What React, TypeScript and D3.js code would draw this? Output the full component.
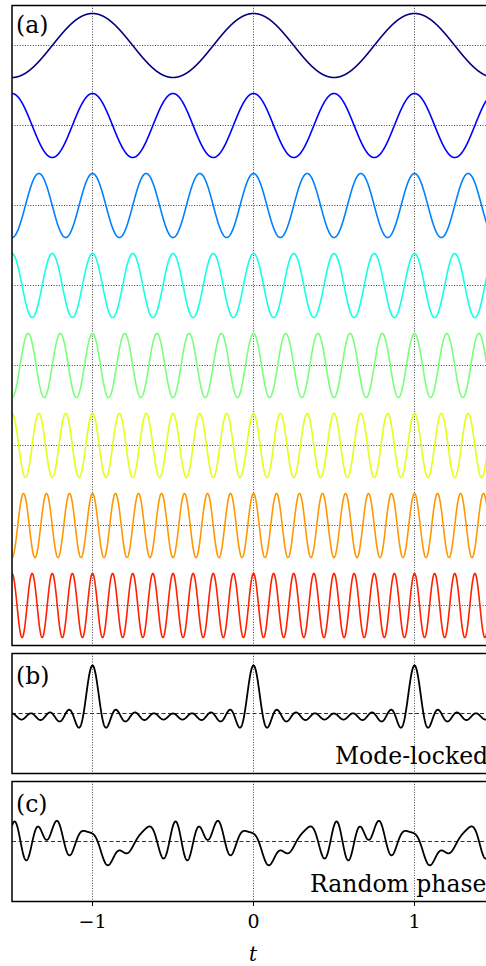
import React from 'react';
import * as d3 from 'd3';

const W = 486, H = 966;
const tDomain: [number, number] = [-1.5, 1.5];
const modes = [1, 2, 3, 4, 5, 6, 7, 8];
const modeColors = ['#000080', '#0000ff', '#0080ff', '#15ffe2', '#7bff7b', '#e2ff15', '#ff9700', '#ff2100'];
const lockedPhases = [0, 0, 0, 0, 0, 0, 0, 0];
const randomPhases = [2.127, 1.886, 0.089, -0.047, 1.737, 0.082, 2.833, -1.281];
const xTicks = [-1, 0, 1];
const panelLabels = ['(a)', '(b)', '(c)'];
const sumLabels = ['Mode-locked', 'Random phase'];

export default function App() {
  const x = d3.scaleLinear().domain(tDomain).range([12, 495]);
  const spacing = 2.5;
  const yA = d3.scaleLinear().domain([0, spacing * modes.length]).range([645.5, 5.5]);
  const yB = d3.scaleLinear().domain([-10, 10]).range([773.5, 653.5]);
  const yC = d3.scaleLinear().domain([-10, 10]).range([901.5, 781.5]);
  const ts = d3.range(0, 3001).map((i) => tDomain[0] + (i * (tDomain[1] - tDomain[0])) / 3000);
  const wave = (n: number, ph: number) => (t: number) => Math.cos(2 * Math.PI * n * t + ph);
  const center = (i: number) => spacing * (modes.length - i) - spacing / 2;
  const lineA = (i: number) =>
    d3.line<number>().x((t) => x(t)).y((t) => yA(center(i) + wave(modes[i], 0)(t)))(ts) as string;
  const sumLine = (phs: number[], y: d3.ScaleLinear<number, number>) =>
    d3.line<number>().x((t) => x(t)).y((t) => y(d3.sum(modes, (n, j) => wave(n, phs[j])(t))))(ts) as string;

  const panels = [
    { id: 'a', y0: 5.5, y1: 645.5, ly: 33 },
    { id: 'b', y0: 653.5, y1: 773.5, ly: 684 },
    { id: 'c', y0: 781.5, y1: 901.5, ly: 812 },
  ];
  const serif = '"DejaVu Serif", serif';
  const dot = { stroke: '#444', strokeWidth: 1, strokeDasharray: '1,1.6' };
  return (
    <div style={{ position: 'absolute', left: 0, top: 0 }}>
      <svg width={W} height={H} style={{ display: 'block', background: '#fff' }}>
        <defs>
          {panels.map((p) => (
            <clipPath id={'clip-' + p.id} key={p.id}>
              <rect x={12} y={p.y0} width={483} height={p.y1 - p.y0} />
            </clipPath>
          ))}
        </defs>
        {panels.map((p) => (
          <g key={p.id}>
            {xTicks.map((t) => (
              <line key={t} x1={x(t)} x2={x(t)} y1={p.y0} y2={p.y1} {...dot} />
            ))}
          </g>
        ))}
        {modes.map((n, i) => (
          <line key={'h' + n} x1={12} x2={495} y1={yA(center(i))} y2={yA(center(i))} {...dot} />
        ))}
        <line x1={12} x2={495} y1={yB(0)} y2={yB(0)} stroke="#333" strokeWidth={1} strokeDasharray="4,2.5" />
        <line x1={12} x2={495} y1={yC(0)} y2={yC(0)} stroke="#333" strokeWidth={1} strokeDasharray="4,2.5" />
        <g clipPath="url(#clip-a)">
          {modes.map((n, i) => (
            <path key={n} d={lineA(i)} fill="none" stroke={modeColors[i]} strokeWidth={1.6} />
          ))}
        </g>
        <g clipPath="url(#clip-b)">
          <path d={sumLine(lockedPhases, yB)} fill="none" stroke="#000" strokeWidth={1.8} />
        </g>
        <g clipPath="url(#clip-c)">
          <path d={sumLine(randomPhases, yC)} fill="none" stroke="#000" strokeWidth={1.8} />
        </g>
        {panels.map((p) => (
          <rect key={p.id} x={12} y={p.y0} width={483} height={p.y1 - p.y0} fill="none" stroke="#000" strokeWidth={1.5} />
        ))}
        {xTicks.map((t) => (
          <g key={t}>
            <line x1={x(t)} x2={x(t)} y1={901.5} y2={906} stroke="#000" strokeWidth={1} />
            <text x={x(t)} y={928} textAnchor="middle" fontFamily={serif} fontSize={19}>
              {t < 0 ? '\u2212' + Math.abs(t) : String(t)}
            </text>
          </g>
        ))}
        {panels.map((p, i) => (
          <text key={p.id} x={16} y={p.ly} fontFamily={serif} fontSize={23.5}>{panelLabels[i]}</text>
        ))}
        <text x={335} y={764} fontFamily={serif} fontSize={23.5}>{sumLabels[0]}</text>
        <text x={310} y={891.5} fontFamily={serif} fontSize={23.5}>{sumLabels[1]}</text>
        <text x={253} y={961} textAnchor="middle" fontFamily={serif} fontStyle="italic" fontSize={20}>t</text>
      </svg>
    </div>
  );
}
